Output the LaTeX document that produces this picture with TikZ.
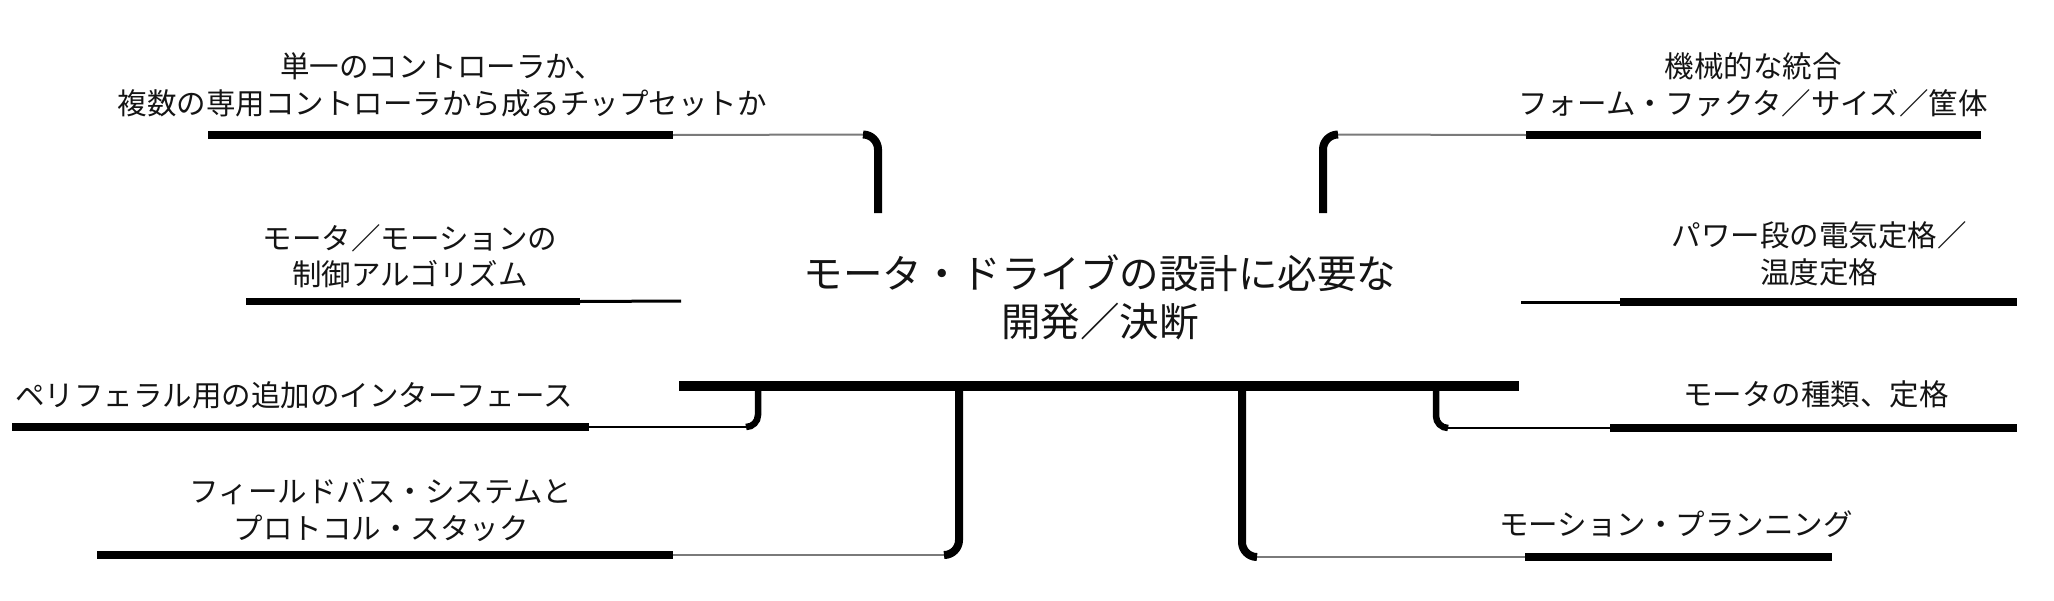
\documentclass[tikz,border=0pt]{standalone}
\usepackage{fontspec}
\newfontfamily\jp{Noto Sans CJK JP}
\definecolor{twiggray}{HTML}{7A7A7A}
\tikzset{
  lbl/.style={font=\jp\fontsize{29.5}{36.5}\selectfont, align=center, inner sep=0pt, text=black!92},
  title/.style={font=\jp\fontsize{39.5}{48}\selectfont, align=center, inner sep=0pt, text=black!92},
  leafbar/.style={line width=7.5pt, line cap=butt},
  trunk/.style={line width=9.5pt, line cap=butt},
  stem/.style={line width=8pt, line cap=butt, rounded corners=15pt},
  stemsmall/.style={line width=6.5pt, line cap=butt, rounded corners=12pt},
  twig/.style={line width=2pt, twiggray},
  twigdark/.style={line width=2pt, black},
}
\begin{document}
\begin{tikzpicture}[x=1pt,y=-1pt]
\useasboundingbox (0,0) rectangle (2054,600);
% ---- texts
\node[title] (main) at (1100,297.5) {モータ・ドライブの設計に必要な\\開発／決断};
\node[lbl] (tl) at (442,85) {単一のコントローラか、\\複数の専用コントローラから成るチップセットか};
\node[lbl] (l2) at (410,256) {モータ／モーションの\\制御アルゴリズム};
\node[lbl] (l3) at (294,395) {ペリフェラル用の追加のインターフェース};
\node[lbl] (l4) at (381,510) {フィールドバス・システムと\\プロトコル・スタック};
\node[lbl] (r1) at (1753,85) {機械的な統合\\フォーム・ファクタ／サイズ／筐体};
\node[lbl] (r2) at (1819,254) {パワー段の電気定格／\\温度定格};
\node[lbl] (r3) at (1816,394) {モータの種類、定格};
\node[lbl] (r4) at (1676,524) {モーション・プランニング};
% ---- coordinates
\coordinate (mA) at (679,386);
\coordinate (mB) at (1519,386);
\coordinate (tlA) at (208,135);
\coordinate (tlB) at (673,135);
\coordinate (tlK) at (863,134.5);
\coordinate (tlS) at (878,213);
\coordinate (l2A) at (246,301.5);
\coordinate (l2B) at (580,301.5);
\coordinate (l2C) at (681,301);
\coordinate (l3A) at (12,427);
\coordinate (l3B) at (589,427);
\coordinate (l3K) at (746,427);
\coordinate (l3S) at (758,386);
\coordinate (l4A) at (97,555);
\coordinate (l4B) at (673,555);
\coordinate (l4K) at (944,555);
\coordinate (l4S) at (959,386);
\coordinate (r1A) at (1526,135);
\coordinate (r1B) at (1981,135);
\coordinate (r1K) at (1338,134.5);
\coordinate (r1S) at (1323,213);
\coordinate (r2C) at (1521,302);
\coordinate (r2A) at (1620,302);
\coordinate (r2B) at (2017,302);
\coordinate (r3A) at (1610,428);
\coordinate (r3B) at (2017,428);
\coordinate (r3K) at (1448,428);
\coordinate (r3S) at (1436,386);
\coordinate (r4A) at (1525,557);
\coordinate (r4B) at (1832,557);
\coordinate (r4K) at (1257,557);
\coordinate (r4S) at (1242,386);
% ---- trunk
\draw[trunk] (mA) -- (mB);
% ---- leaf bars
\draw[leafbar] (tlA) -- (tlB);
\draw[leafbar, line width=6.5pt] (l2A) -- (l2B);
\draw[line width=3pt] (l2B) -- (l2C);
\draw[leafbar] (l3A) -- (l3B);
\draw[leafbar] (l4A) -- (l4B);
\draw[leafbar] (r1A) -- (r1B);
\draw[line width=3pt] (r2C) -- (r2A);
\draw[leafbar] (r2A) -- (r2B);
\draw[leafbar] (r3A) -- (r3B);
\draw[leafbar] (r4A) -- (r4B);
% ---- twigs
\draw[twig] (tlB) -- (tlK);
\draw[twigdark] (l3B) -- (l3K);
\draw[twig] (l4B) -- (l4K);
\draw[twig] (r1A) -- (r1K);
\draw[twigdark] (r3A) -- (r3K);
\draw[twig] (r4A) -- (r4K);
% ---- stems
\draw[stem] (tlS) |- (tlK);
\draw[stem] (r1S) |- (r1K);
\draw[stemsmall] (l3S) |- (l3K);
\draw[stem] (l4S) |- (l4K);
\draw[stemsmall] (r3S) |- (r3K);
\draw[stem] (r4S) |- (r4K);
\end{tikzpicture}
\end{document}
